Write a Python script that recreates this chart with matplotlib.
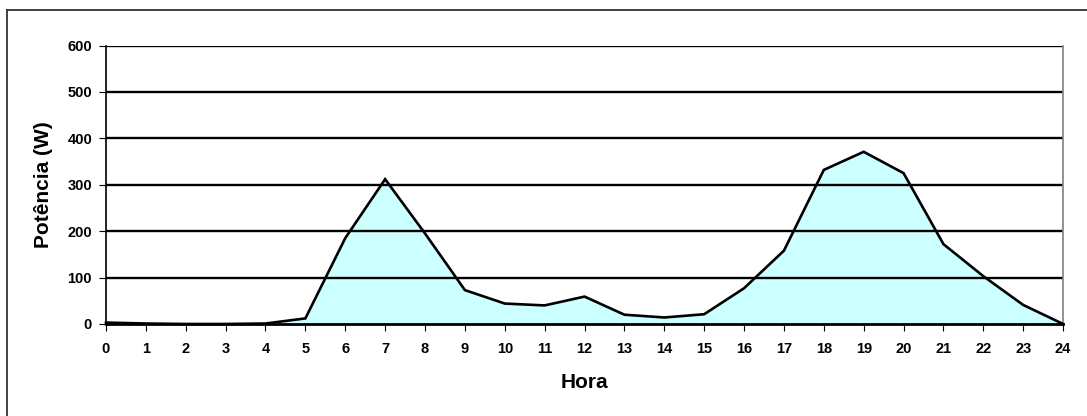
import numpy as np
import matplotlib.pyplot as plt
from matplotlib.lines import Line2D

plt.rcParams['font.family'] = ['Liberation Sans', 'DejaVu Sans']
plt.rcParams['font.weight'] = 'bold'

hours = list(range(25))
power = [3, 1, 0, 0, 1, 12, 185, 312, 195, 73, 44, 40, 59, 20, 14, 21,
         77, 158, 332, 371, 325, 172, 103, 41, 0]
yticks = [0, 100, 200, 300, 400, 500, 600]

fig = plt.figure(figsize=(10.87, 4.16), dpi=100)
ax = fig.add_axes([0.0975, 0.2212, 0.8805, 0.6694])

ax.fill_between(hours, power, 0, color='#ccffff', lw=0, zorder=1)
for y in yticks[1:]:
	ax.axhline(y, color='black', lw=1.7, zorder=2)
ax.plot(hours, power, color='black', lw=1.9, zorder=3, clip_on=False,
		solid_joinstyle='miter')

ax.set_xlim(0, 24)
ax.set_ylim(0, 600)
ax.set_xticks(hours)
ax.set_yticks(yticks)
ax.tick_params(axis='both', direction='out', length=5, width=0.8,
			   labelsize=10.5, color='black')
ax.tick_params(axis='x', pad=8)
ax.tick_params(axis='y', pad=5)
for lab in ax.get_xticklabels() + ax.get_yticklabels():
	lab.set_fontweight('bold')

ax.spines['top'].set_visible(False)
ax.spines['right'].set_color('#808080')
ax.spines['right'].set_linewidth(1.2)
ax.spines['left'].set_linewidth(1.2)
ax.spines['bottom'].set_linewidth(2)
ax.spines['bottom'].set_zorder(4)

ax.set_xlabel('Hora', fontsize=15, fontweight='bold', labelpad=12)
ax.set_ylabel('Potência (W)', fontsize=15, fontweight='bold', labelpad=10)

# outer chart frame (partly cropped in the original)
fig.add_artist(Line2D([0.0064, 1.0], [0.976, 0.976], transform=fig.transFigure,
					  color='#333333', lw=1.3))
fig.add_artist(Line2D([0.0064, 0.0064], [0.0, 0.976], transform=fig.transFigure,
					  color='#333333', lw=1.3))

plt.savefig('out.png', dpi=100)
